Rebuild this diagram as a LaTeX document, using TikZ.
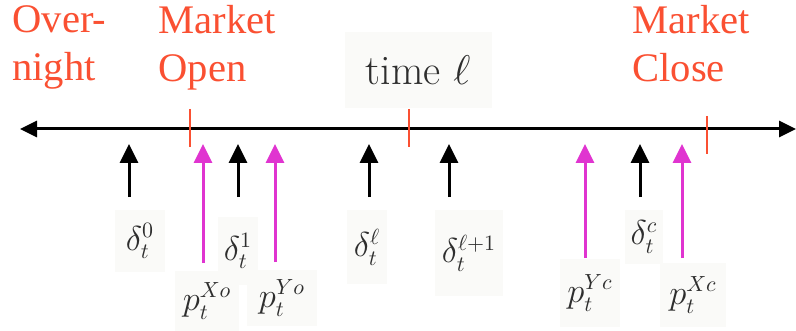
\documentclass[tikz,border=0pt]{standalone}
\usepackage{fontspec}
\newfontfamily\mktfont{Liberation Serif}
\usetikzlibrary{arrows.meta}
\definecolor{mktred}{RGB}{250,80,50}
\definecolor{pmag}{RGB}{224,52,208}
\definecolor{boxbg}{RGB}{250,250,248}

\begin{document}
\begin{tikzpicture}[
  x=0.5pt, y=-0.5pt,
  mkt/.style={text=mktred, font=\mktfont\fontsize{20.3}{24}\selectfont, align=left, anchor=base west, inner sep=0pt},
  lbl/.style={fill=boxbg, text=black!82, font=\fontsize{16}{18}\selectfont, inner sep=3pt},
  tickmark/.style={mktred, line width=1.2pt},
  axis/.style={{Triangle[length=8.5pt,width=8pt]}-{Triangle[length=8.5pt,width=8pt]}, line width=1.5pt, black},
  obs/.style={-{Triangle[length=9.5pt,width=9pt]}, line width=1.5pt, black},
  prc/.style={obs, pmag}
]
\useasboundingbox (0,0) rectangle (796,331);

% headings (base = last line)
\node[mkt] (over) at (12,81) {Over-\\night};
\node[mkt] (open) at (158,82) {Market\\Open};
\node[mkt] (close) at (632,82) {Market\\Close};
\node[lbl, minimum width=73.5pt, minimum height=38pt, font=\fontsize{21}{24}\selectfont] (time) at (418,70) {$\mathrm{time}\ \ell$};

% time axis
\coordinate (axL) at (20,129);
\coordinate (axR) at (796,129);
\draw[axis] (axL) -- (axR);
\draw[tickmark] (190,109) -- (190,147);
\draw[tickmark] (409,109) -- (409,147);
\draw[tickmark] (707,116) -- (707,154);

% labels below the axis
\node[lbl, minimum width=25pt, minimum height=31pt] (d0) at (140,241) {$\delta_t^0$};
\node[lbl, minimum width=20pt, minimum height=34pt] (d1) at (238,251) {$\delta_t^1$};
\node[lbl, minimum width=32pt, minimum height=30pt] (pXo) at (207,301) {$p_t^{Xo}$};
\node[lbl, minimum width=35pt, minimum height=28pt] (pYo) at (282,298) {$p_t^{Yo}$};
\node[lbl, minimum width=20pt, minimum height=37pt] (dl) at (367,247) {$\delta_t^\ell$};
\node[lbl, minimum width=34pt, minimum height=43pt] (dl1) at (469,253) {$\delta_t^{\ell+1}$};
\node[lbl, minimum width=30pt, minimum height=34pt] (pYc) at (590,293) {$p_t^{Yc}$};
\node[lbl, minimum width=18pt, minimum height=27pt] (dc) at (644,237) {$\delta_t^c$};
\node[lbl, minimum width=33pt, minimum height=32pt] (pXc) at (693,295) {$p_t^{Xc}$};

% observation arrows
\foreach \n/\x in {d0/129, d1/238, dl/369, dl1/449, dc/640} {
  \coordinate (\n-tail) at (\x,197);
  \coordinate (\n-tip) at (\x,144);
}
\foreach \n/\x/\y in {pXo/203/263, pYo/275/262, pYc/585/258, pXc/682/258} {
  \coordinate (\n-tail) at (\x,\y);
  \coordinate (\n-tip) at (\x,144);
}
\foreach \n in {d0, d1, dl, dl1, dc}
  \draw[obs] (\n-tail) -- (\n-tip);
\foreach \n in {pXo, pYo, pYc, pXc}
  \draw[prc] (\n-tail) -- (\n-tip);
\end{tikzpicture}
\end{document}
